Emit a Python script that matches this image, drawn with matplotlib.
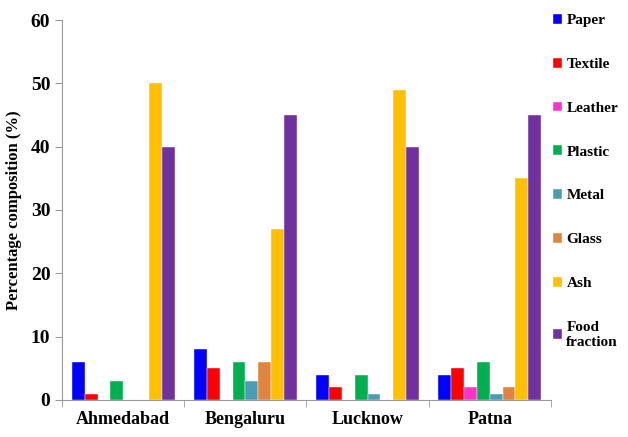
import matplotlib
matplotlib.use("Agg")
from matplotlib import pyplot as plt
import numpy as np

# Waste composition per city (%)
cities = ["Ahmedabad", "Bengaluru", "Lucknow", "Patna"]
components = ["Paper", "Textile", "Leather", "Plastic", "Metal", "Glass",
              "Ash", "Food\nfraction"]
paper = [6, 8, 4, 4]
textile = [1, 5, 2, 5]
leather = [0, 0, 0, 2]
plastic = [3, 6, 4, 6]
metal = [0, 3, 1, 1]
glass = [0, 6, 0, 2]
ash = [50, 27, 49, 35]
food = [40, 45, 40, 45]
yticks = [0, 10, 20, 30, 40, 50, 60]

colors = ["#0000FF", "#FF0000", "#FF33CC", "#00B050", "#4A9DB5",
          "#E0843F", "#FFC000", "#7030A0"]
series = [paper, textile, leather, plastic, metal, glass, ash, food]

plt.rcParams["font.family"] = ["Liberation Serif", "DejaVu Serif"]
plt.rcParams["font.weight"] = "bold"

fig = plt.figure(figsize=(6.28, 4.37), dpi=100)
ax = fig.add_axes([0.099, 0.085, 0.778, 0.869])

x = np.arange(len(cities))
n = len(series)
group = 0.84
w = group / n
for i, (vals, col, name) in enumerate(zip(series, colors, components)):
    offs = -group / 2 + w * (i + 0.5)
    ax.bar(x + offs, vals, width=w, color=col, label=name,
           edgecolor="white", linewidth=0.3)

ax.set_xlim(-0.5, len(cities) - 0.5)
ax.set_ylim(0, 60)
ax.set_yticks(yticks)
ax.set_yticklabels([str(t) for t in yticks], fontsize=14, fontweight="bold")
ax.set_xticks(x)
ax.set_xticklabels(cities, fontsize=13, fontweight="bold")
# category separators on the x axis
ax.set_xticks(np.arange(len(cities) + 1) - 0.5, minor=True)
ax.tick_params(axis="x", which="major", length=0, pad=8)
ax.tick_params(axis="x", which="minor", length=5, color="#999999")
ax.tick_params(axis="y", length=5, color="#999999")
ax.set_ylabel("Percentage composition (%)", fontsize=12, fontweight="bold",
              labelpad=6)

for side in ["top", "right"]:
    ax.spines[side].set_visible(False)
for side in ["left", "bottom"]:
    ax.spines[side].set_color("#999999")

leg = ax.legend(loc="upper left", bbox_to_anchor=(0.985, 1.04), frameon=False,
                handlelength=0.6, handleheight=0.6, handletextpad=0.3,
                borderaxespad=0.2, labelspacing=2.0,
                prop={"size": 11, "weight": "bold"})
for t in leg.get_texts():
    t.set_multialignment("left")

fig.savefig("out.png", dpi=100)
